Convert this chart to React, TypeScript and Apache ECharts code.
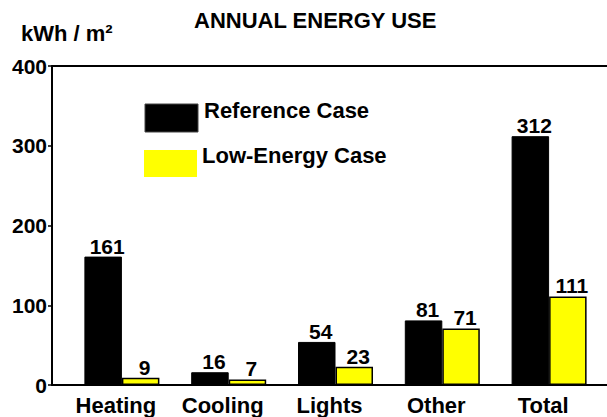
import React, { useEffect, useRef } from "react";
import * as echarts from "echarts";

const categories = ["Heating", "Cooling", "Lights", "Other", "Total"];
const referenceCase = [161, 16, 54, 81, 312];
const lowEnergyCase = [9, 7, 23, 71, 111];
const yTicks = { min: 0, max: 400, interval: 100 };
const seriesNames = ["Reference Case", "Low-Energy Case"];
const seriesColors = ["#000000", "#ffff00"];

const FONT = "'Liberation Sans', Arial, sans-serif";

export default function App() {
  const ref = useRef<HTMLDivElement>(null);
  useEffect(() => {
    if (!ref.current) return;
    const chart = echarts.init(ref.current, undefined, { renderer: "svg" });
    const labelStyle = {
      show: true,
      position: "top" as const,
      distance: 0,
      offset: [4, 0],
      color: "#000",
      fontFamily: FONT,
      fontWeight: "bold" as const,
      fontSize: 21,
    };
    const textFont = { fontFamily: FONT, fontWeight: "bold" as const, fontSize: 22, fill: "#000" };
    chart.setOption({
      animation: false,
      backgroundColor: "#fff",
      textStyle: { fontFamily: FONT },
      title: [
        {
          text: "ANNUAL ENERGY USE",
          left: 194,
          top: 9,
          padding: 0,
          textStyle: { fontFamily: FONT, fontWeight: "bold", fontSize: 22, color: "#000" },
        },
        {
          text: "kWh / m²",
          left: 21,
          top: 22,
          padding: 0,
          textStyle: { fontFamily: FONT, fontWeight: "bold", fontSize: 22, color: "#000" },
        },
      ],
      graphic: [
        {
          type: "rect",
          shape: { x: 145, y: 104, width: 53, height: 28 },
          style: { fill: seriesColors[0], stroke: "#444", lineWidth: 1 },
        },
        {
          type: "rect",
          shape: { x: 144, y: 150, width: 53, height: 27 },
          style: { fill: seriesColors[1] },
        },
        {
          type: "text",
          x: 204,
          y: 110,
          style: { ...textFont, text: seriesNames[0], verticalAlign: "middle" },
        },
        {
          type: "text",
          x: 202,
          y: 155,
          style: { ...textFont, text: seriesNames[1], verticalAlign: "middle" },
        },
      ],
      grid: [
        { left: 68.5, right: 4.5, top: 66, bottom: 32 },
        { left: 52, right: 0, top: 66, bottom: 32 },
      ],
      xAxis: [
        {
          type: "category",
          gridIndex: 0,
          data: categories,
          axisLine: { show: false },
          axisTick: { show: false },
          axisLabel: {
            margin: 9,
            color: "#000",
            fontFamily: FONT,
            fontWeight: "bold",
            fontSize: 22,
            padding: [0, 12, 0, 0],
          },
        },
        {
          type: "value",
          gridIndex: 1,
          min: 0,
          max: 1,
          position: "bottom",
          axisLine: { show: true, lineStyle: { color: "#000", width: 2 } },
          axisTick: { show: false },
          axisLabel: { show: false },
          splitLine: { show: false },
        },
        {
          type: "value",
          gridIndex: 1,
          min: 0,
          max: 1,
          position: "top",
          axisLine: { show: true, lineStyle: { color: "#000", width: 2 } },
          axisTick: { show: false },
          axisLabel: { show: false },
          splitLine: { show: false },
        },
      ],
      yAxis: [
        {
          type: "value",
          gridIndex: 0,
          min: yTicks.min,
          max: yTicks.max,
          interval: yTicks.interval,
          show: false,
        },
        {
          type: "value",
          gridIndex: 1,
          min: yTicks.min,
          max: yTicks.max,
          interval: yTicks.interval,
          axisLine: { show: true, lineStyle: { color: "#000", width: 2 } },
          axisTick: { show: true, length: 4, inside: false, lineStyle: { color: "#000", width: 1.5 } },
          axisLabel: {
            margin: 5,
            color: "#000",
            fontFamily: FONT,
            fontWeight: "bold",
            fontSize: 21,
          },
          splitLine: { show: false },
        },
      ],
      series: [
        {
          name: seriesNames[0],
          type: "bar",
          xAxisIndex: 0,
          yAxisIndex: 0,
          data: referenceCase,
          barWidth: 37.5,
          barGap: "0%",
          itemStyle: { color: seriesColors[0], borderColor: "#000", borderWidth: 1 },
          label: labelStyle,
        },
        {
          name: seriesNames[1],
          type: "bar",
          xAxisIndex: 0,
          yAxisIndex: 0,
          data: lowEnergyCase,
          barWidth: 37.5,
          barGap: "0%",
          itemStyle: { color: seriesColors[1], borderColor: "#000", borderWidth: 1.5 },
          label: labelStyle,
        },
      ],
    });
    return () => chart.dispose();
  }, []);
  return (
    <div
      ref={ref}
      style={{ position: "fixed", left: 0, top: 0, width: 607, height: 417 }}
    />
  );
}
